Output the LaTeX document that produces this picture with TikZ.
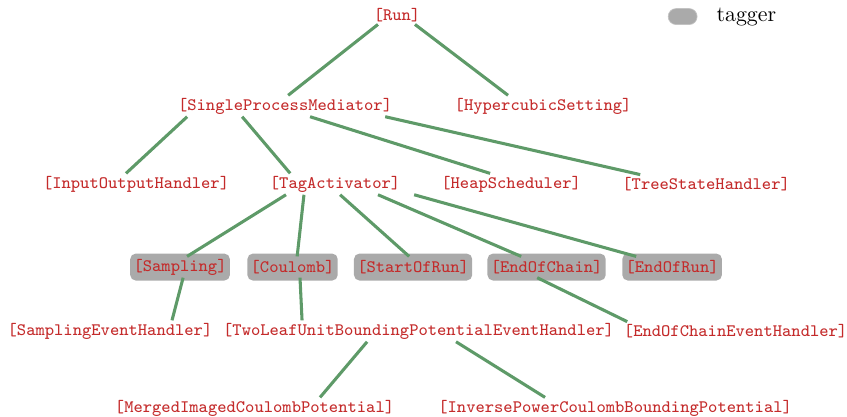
\documentclass[tikz,border=0pt]{standalone}
\definecolor{clsred}{HTML}{C42B2B}
\definecolor{edgegreen}{HTML}{5E9A68}
\definecolor{taggray}{HTML}{AAAAAA}
\tikzset{
  cls/.style={font=\footnotesize\ttfamily,text=clsred,inner sep=1pt},
  tagbox/.style={cls,fill=taggray,rounded corners=2.5pt,inner xsep=1.5pt,minimum height=12.3pt},
  edge/.style={edgegreen,line width=1.4pt}
}
\begin{document}
\begin{tikzpicture}
    \useasboundingbox (0,0) rectangle (13.59,6.676);
    %% legend
    \node[fill=taggray,draw=taggray!70!white,line width=0.3pt,rounded corners=3.6pt,minimum width=13.2pt,minimum height=7.3pt,inner sep=0pt] (leg) at (10.953,6.41) {};
    \node[anchor=west,inner sep=0pt] (legtxt) at (11.49,6.40) {tagger};
    %% level 0 and 1
    \node[cls] (run) at (6.370,6.435) {[Run]};
    \node[cls] (spm) at (4.574,4.975) {[SingleProcessMediator]};
    \node[cls] (hyp) at (8.714,4.975) {[HypercubicSetting]};
    %% level 2
    \node[cls] (io)   at (2.183,3.723) {[InputOutputHandler]};
    \node[cls] (tag)  at (5.376,3.723) {[TagActivator]};
    \node[cls] (heap) at (8.201,3.723) {[HeapScheduler]};
    \node[cls] (tree) at (11.330,3.723) {[TreeStateHandler]};
    %% taggers
    \node[tagbox] (samp)   at (2.889,2.391) {[Sampling]};
    \node[tagbox] (coul)   at (4.694,2.391) {[Coulomb]};
    \node[tagbox] (sor)    at (6.628,2.391) {[StartOfRun]};
    \node[tagbox] (eoc)    at (8.770,2.391) {[EndOfChain]};
    \node[tagbox] (eor)    at (10.784,2.391) {[EndOfRun]};
    %% event handlers
    \node[cls] (seh)   at (1.765,1.364) {[SamplingEventHandler]};
    \node[cls] (tlh)   at (6.716,1.364) {[TwoLeafUnitBoundingPotentialEventHandler]};
    \node[cls] (eoceh) at (11.803,1.364) {[EndOfChainEventHandler]};
    %% potentials
    \node[cls] (mic) at (4.084,0.128) {[MergedImagedCoulombPotential]};
    \node[cls] (ipc) at (9.870,0.128) {[InversePowerCoulombBoundingPotential]};
    %% edges
    \draw[edge] ([xshift=-8.7pt]run.south) -- ([xshift=1.4pt]spm.north);
    \draw[edge] ([xshift=8.2pt]run.south) -- ([xshift=-16pt]hyp.north);
    \draw[edge] ([xshift=-44.7pt]spm.south) -- ([xshift=-4.6pt]io.north);
    \draw[edge] ([xshift=-19.6pt]spm.south) -- ([xshift=-20.5pt]tag.north);
    \draw[edge] ([xshift=11.4pt]spm.south) -- ([xshift=-9.6pt]heap.north);
    \draw[edge] ([xshift=45.7pt]spm.south) -- ([xshift=-30.1pt]tree.north);
    \draw[edge] ([xshift=-22.4pt]tag.south) -- ([xshift=3.2pt,yshift=-1.5pt]samp.north);
    \draw[edge] ([xshift=-14.2pt]tag.south) -- ([xshift=2.1pt,yshift=-1.5pt]coul.north);
    \draw[edge] ([xshift=2.3pt]tag.south) -- ([xshift=-1.8pt,yshift=-1.5pt]sor.north);
    \draw[edge] ([xshift=19.6pt]tag.south) -- ([xshift=-11.6pt,yshift=-1.5pt]eoc.north);
    \draw[edge] ([xshift=36.1pt]tag.south) -- ([xshift=-16.4pt,yshift=-1.5pt]eor.north);
    \draw[edge] ([xshift=1.4pt,yshift=1.5pt]samp.south) -- ([xshift=28.3pt]seh.north);
    \draw[edge] ([xshift=3.4pt,yshift=1.5pt]coul.south) -- ([xshift=-53.2pt]tlh.north);
    \draw[edge] ([xshift=-4.3pt,yshift=1.5pt]eoc.south) -- ([xshift=-49.5pt]eoceh.north);
    \draw[edge] ([xshift=-23.5pt]tlh.south) -- ([xshift=29.9pt]mic.north);
    \draw[edge] ([xshift=17.1pt]tlh.south) -- ([xshift=-32pt]ipc.north);
\end{tikzpicture}
\end{document}
